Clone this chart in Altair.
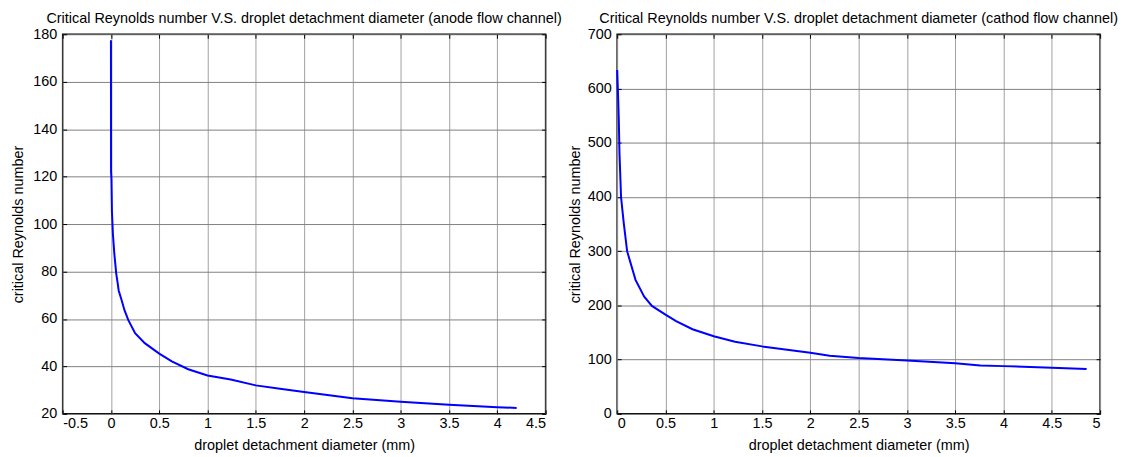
import altair as alt
import pandas as pd

# ---- data ----
anode_d = [0, 0.001, 0.005, 0.01, 0.02, 0.035, 0.055, 0.07, 0.08, 0.11, 0.14, 0.18,
           0.25, 0.35, 0.5, 0.63, 0.8, 1.0, 1.24, 1.5, 1.75, 2.0, 2.5, 3.0, 3.5, 4.0, 4.2]
anode_re = [177.5, 122, 119, 105.5, 96, 87.5, 79, 75, 72, 68, 63.7, 59.5,
            54, 49.8, 45.4, 42.1, 38.8, 36.2, 34.5, 32, 30.6, 29.2, 26.6, 25.1, 23.8, 22.8, 22.5]

cathode_d = [0, 0.01, 0.017, 0.024, 0.034, 0.04, 0.068, 0.103, 0.19, 0.28, 0.36, 0.5,
             0.61, 0.78, 1.0, 1.22, 1.5, 2.0, 2.2, 2.5, 3.0, 3.5, 3.76, 4.0, 4.5, 4.86]
cathode_re = [634, 584, 541, 481, 431, 400, 352, 300, 247, 216, 199, 183,
              171, 156, 143, 133, 124.4, 112.5, 107.2, 103, 98.2, 93.4, 89.2, 88, 85, 82.6]

anode_xticks = [-0.5, 0, 0.5, 1, 1.5, 2, 2.5, 3, 3.5, 4, 4.5]
anode_yticks = [20, 40, 60, 80, 100, 120, 140, 160, 180]
cathode_xticks = [0, 0.5, 1, 1.5, 2, 2.5, 3, 3.5, 4, 4.5, 5]
cathode_yticks = [0, 100, 200, 300, 400, 500, 600, 700]

anode_title = "Critical Reynolds number V.S. droplet detachment diameter (anode flow channel)"
cathode_title = "Critical Reynolds number V.S. droplet detachment diameter (cathod flow channel)"
x_title = "droplet detachment diameter (mm)"
y_title = "critical Reynolds number"

FONT = "Liberation Sans"
FS = 14.5
LABEL = "'' + datum.value"
W, H = 486, 382


def panel(d, re, xdom, ydom, xticks, yticks, title, ytitle_x):
    df = pd.DataFrame({"d": d, "re": re})
    base = alt.Chart(df)
    xs = alt.Scale(domain=xdom, nice=False, zero=False)
    ys = alt.Scale(domain=ydom, nice=False, zero=False)
    main = base.mark_line(color="#0000ff", strokeWidth=2).encode(
        x=alt.X("d:Q", scale=xs, axis=alt.Axis(
            values=xticks, orient="bottom", offset=-4, tickSize=4, tickColor="black",
            grid=True, gridColor="#a0a0a0", domain=False, title=x_title,
            labelPadding=3, labelExpr=LABEL, titlePadding=8)),
        y=alt.Y("re:Q", scale=ys, axis=alt.Axis(
            values=yticks, orient="left", offset=-4, tickSize=4, tickColor="black",
            grid=True, gridColor="#808080", domain=False, title=y_title,
            labelPadding=6, labelExpr=LABEL,
            titleX=ytitle_x, titleY=H / 2, titleAngle=270,
            titleAlign="center", titleBaseline="middle")),
    )
    aux = base.mark_line(opacity=0).encode(
        x=alt.X("d:Q", scale=xs, axis=alt.Axis(
            values=xticks, orient="top", offset=-4, tickSize=4, tickColor="black",
            grid=False, domain=False, labels=False, title=None)),
        y=alt.Y("re:Q", scale=ys, axis=alt.Axis(
            values=yticks, orient="right", offset=-4, tickSize=4, tickColor="black",
            grid=False, domain=False, labels=False, title=None)),
    )
    return alt.layer(main, aux).resolve_axis(x="independent", y="independent").properties(
        width=W, height=H,
        title=alt.TitleParams(title, fontSize=FS, font=FONT, fontWeight="normal",
                              color="black", anchor="middle", offset=0),
    )


left = panel(anode_d, anode_re, [-0.5, 4.5], [20, 180], anode_xticks, anode_yticks,
             anode_title, -48)
right = panel(cathode_d, cathode_re, [0, 5], [0, 700], cathode_xticks, cathode_yticks,
              cathode_title, -46)

chart = alt.hconcat(left, right, spacing=72, bounds="flush").properties(
    padding={"left": 2, "top": 0, "right": 0, "bottom": 0}
).configure(
    font=FONT,
).configure_view(
    stroke="black", strokeWidth=1.5,
).configure_axis(
    labelFont=FONT, titleFont=FONT, labelFontSize=FS, titleFontSize=FS,
    labelColor="black", titleColor="black", titleFontWeight="normal",
    gridWidth=1,
)

chart.save("out.html", embed_options={"renderer": "svg", "actions": False})
